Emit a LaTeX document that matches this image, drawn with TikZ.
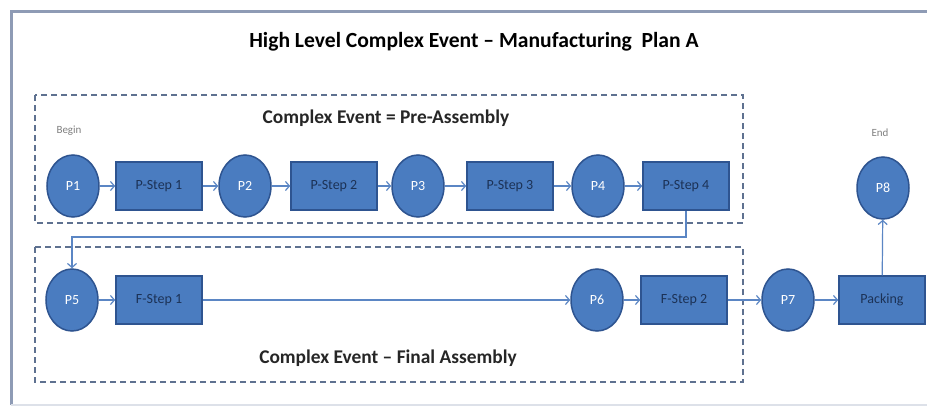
\documentclass[tikz,border=0pt]{standalone}
\usepackage{fontspec}
\setmainfont{Carlito}
\usetikzlibrary{shapes.geometric,arrows.meta}

\definecolor{nodeblue}{HTML}{4A7CC0}
\definecolor{nodeedge}{HTML}{2E5490}
\definecolor{linkblue}{HTML}{5B86C4}
\definecolor{boxgray}{HTML}{5E7190}
\definecolor{framegray}{HTML}{8E9BB5}

\tikzset{
	>={Straight Barb[length=4pt,width=9pt]},
	place/.style={ellipse,fill=nodeblue,draw=nodeedge,line width=1.5pt,minimum width=52pt,minimum height=62pt,inner sep=0pt,text=white,font=\fontsize{14}{16}\selectfont},
	stepbox/.style={rectangle,fill=nodeblue,draw=nodeedge,line width=1.5pt,minimum width=86pt,minimum height=48pt,inner sep=0pt,text=nodeedge!60!black,font=\fontsize{14}{16}\selectfont},
	flow/.style={->,linkblue,line width=1.2pt},
	groupbox/.style={boxgray,dashed,dash pattern=on 6pt off 4pt,line width=1.5pt},
	grouplabel/.style={font=\bfseries\fontsize{19.4}{21}\selectfont,text=black!85}
}

\begin{document}
\begin{tikzpicture}[x=1pt,y=-1pt]
	\useasboundingbox (0,0) rectangle (927,407);
	%Frame
		\fill [white] (0,0) rectangle (927,407);
		\draw [framegray,line width=3pt] (11,405) -- (11,11) -- (927,11);
		\draw [framegray!30,line width=1.5pt] (11,405) -- (927,405);
	%Title
		\node (title) at (474,42) {\bfseries\fontsize{21.6}{24}\selectfont High Level Complex Event -- Manufacturing\ \ Plan A};
	%Pre-Assembly group
		\draw [groupbox] (35,95) rectangle (743,223);
		\node [grouplabel] (prelabel) at (386,118) {Complex Event = Pre-Assembly};
		\node [text=black!50,font=\fontsize{11}{12}\selectfont] (begin) at (69,131) {Begin};
		\node [place] (p1) at (73,186) {P1};
		\node [stepbox] (ps1) at (159,186) {P-Step 1};
		\node [place] (p2) at (245,186) {P2};
		\node [stepbox] (ps2) at (334,186) {P-Step 2};
		\node [place] (p3) at (418,186) {P3};
		\node [stepbox] (ps3) at (510,186) {P-Step 3};
		\node [place] (p4) at (598,186) {P4};
		\node [stepbox] (ps4) at (686,186) {P-Step 4};
	%Final Assembly group
		\draw [groupbox] (35,247) rectangle (743,382);
		\node [grouplabel] (finlabel) at (388,358) {Complex Event -- Final Assembly};
		\node [place] (p5) at (72,300) {P5};
		\node [stepbox] (fs1) at (159,300) {F-Step 1};
		\node [place] (p6) at (597,300) {P6};
		\node [stepbox] (fs2) at (684,300) {F-Step 2};
	%Outside the groups
		\node [place] (p7) at (788,300) {P7};
		\node [stepbox] (pack) at (882,300) {Packing};
		\node [place] (p8) at (883,188) {P8};
		\node [text=black!50,font=\fontsize{11}{12}\selectfont] (end) at (880,133) {End};
	%Arrows
		\draw [flow] (p1) -- (ps1);
		\draw [flow] (ps1) -- (p2);
		\draw [flow] (p2) -- (ps2);
		\draw [flow] (ps2) -- (p3);
		\draw [flow] (p3) -- (ps3);
		\draw [flow] (ps3) -- (p4);
		\draw [flow] (p4) -- (ps4);
		%Link between the groups
		\coordinate (turn) at (72,237);
		\draw [flow] (ps4.south) -- (ps4.south |- turn) -- (turn) -- (p5.north);
		\draw [flow] (p5) -- (fs1);
		\draw [flow] (fs1) -- (p6);
		\draw [flow] (p6) -- (fs2);
		\draw [flow] (fs2) -- (p7);
		\draw [flow] (p7) -- (pack);
		\draw [flow] (pack) -- (p8);
\end{tikzpicture}
\end{document}
